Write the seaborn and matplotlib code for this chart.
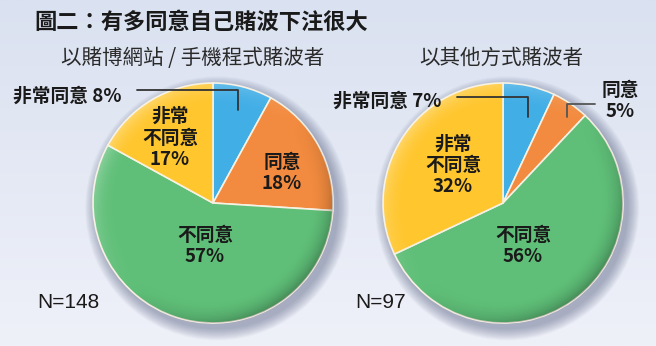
import matplotlib
matplotlib.use('Agg')
import matplotlib.pyplot as plt
import numpy as np
import seaborn as sns
from matplotlib.patches import Circle
from matplotlib.colors import LinearSegmentedColormap

# ---- data ----
categories = ['非常同意', '同意', '不同意', '非常不同意']
online_values = [8, 18, 57, 17]
other_values = [7, 5, 56, 32]
group_titles = ['以賭博網站 / 手機程式賭波者', '以其他方式賭波者']
sample_sizes = [148, 97]
chart_title = '圖二：有多同意自己賭波下注很大'

sns.set_theme(style='white')
plt.rcParams['font.family'] = ['Noto Sans CJK TC', 'DejaVu Sans']
colors = sns.color_palette(['#42AEE6', '#F28B3F', '#5FBF78', '#FFC62E'])

W, H = 656, 346
fig = plt.figure(figsize=(W / 100, H / 100), dpi=100)

# background gradient
bg = fig.add_axes([0, 0, 1, 1], zorder=-10)
grad = np.linspace(0, 1, 256)[:, None]
cmap = LinearSegmentedColormap.from_list('bg', ['#DAE1F0', '#EFF1F9'])
bg.imshow(grad, aspect='auto', cmap=cmap, extent=[0, 1, 0, 1], origin='upper')
bg.axis('off')

R = 120
half = 140
lim = half / R


def draw_pie(cx, cy, values):
    ax = fig.add_axes([(cx - half) / W, (H - cy - half) / H, 2 * half / W, 2 * half / H])
    # soft shadow
    n = 14
    for i in range(n):
        rr = 1.10 - 0.10 * i / n
        ax.add_patch(Circle((0.035, -0.045), rr, color='#4A5578', alpha=0.035, lw=0, zorder=0))
    wedges, _ = ax.pie(values, colors=colors, startangle=90, counterclock=False, radius=1,
                       wedgeprops=dict(edgecolor='#F6F1E2', linewidth=1.2))
    for w in wedges:
        w.set_zorder(2)
    # spherical shading overlay
    g = np.linspace(-1, 1, 400)
    X, Y = np.meshgrid(g, g)
    r = np.sqrt(X ** 2 + Y ** 2)
    rim = np.clip((r - 0.80) / 0.20, 0, 1) ** 2
    light = (-X + Y) / np.sqrt(2)
    rgba = np.zeros((400, 400, 4))
    dark = rim * np.clip(-light, 0, None) * 0.28
    bright = rim * np.clip(light, 0, None) * 0.30
    rgba[..., :3] = np.where((bright > dark)[..., None], 1.0, 0.0)
    rgba[..., 3] = np.maximum(dark, bright)
    im = ax.imshow(rgba, extent=[-1, 1, -1, 1], origin='lower', zorder=3, interpolation='bilinear')
    im.set_clip_path(Circle((0, 0), 1, transform=ax.transData))
    ax.set_xlim(-lim, lim)
    ax.set_ylim(-lim, lim)
    ax.set_aspect('equal')
    ax.axis('off')
    return ax


draw_pie(213, 203, online_values)
draw_pie(503, 203, other_values)

# overlay for text/lines in pixel coordinates
ov = fig.add_axes([0, 0, 1, 1], zorder=10)
ov.set_xlim(0, W)
ov.set_ylim(H, 0)
ov.axis('off')
ov.patch.set_alpha(0)

ov.text(34, 22, chart_title, fontsize=16, fontweight='bold', color='#1a1a1a', va='center', ha='left')
ov.text(193, 58, group_titles[0], fontsize=14.8, color='#2a2a2a', va='center', ha='center')
ov.text(501, 58, group_titles[1], fontsize=14.8, color='#2a2a2a', va='center', ha='center')

lab_kw = dict(fontsize=13.5, fontweight='bold', color='#1a1a1a', va='center', ha='center', linespacing=1.15)
# left pie labels
ov.text(13, 96, f'{categories[0]} {online_values[0]}%', **{**lab_kw, 'ha': 'left'})
ov.plot([137, 238, 238], [90, 90, 110], color='#333333', lw=1.3)
ov.text(170, 138, f'非常\n不同意\n{online_values[3]}%', **lab_kw)
ov.text(282, 173, f'{categories[1]}\n{online_values[1]}%', **lab_kw)
ov.text(205, 246, f'{categories[2]}\n{online_values[2]}%', **lab_kw)
ov.text(37, 302, f'N={sample_sizes[0]}', fontsize=15, color='#1a1a1a', va='center', ha='left', family='Liberation Sans')

# right pie labels
ov.text(333, 101, f'{categories[0]} {other_values[0]}%', **{**lab_kw, 'ha': 'left'})
ov.plot([457, 528, 528], [97, 97, 117], color='#333333', lw=1.3)
ov.text(620, 101, f'{categories[1]}\n{other_values[1]}%', **lab_kw)
ov.plot([595, 567, 567], [104, 104, 117], color='#555555', lw=1.3)
ov.text(453, 165, f'非常\n不同意\n{other_values[3]}%', **lab_kw)
ov.text(523, 246, f'{categories[2]}\n{other_values[2]}%', **lab_kw)
ov.text(355, 302, f'N={sample_sizes[1]}', fontsize=15, color='#1a1a1a', va='center', ha='left', family='Liberation Sans')

fig.savefig('out.png', dpi=100)
